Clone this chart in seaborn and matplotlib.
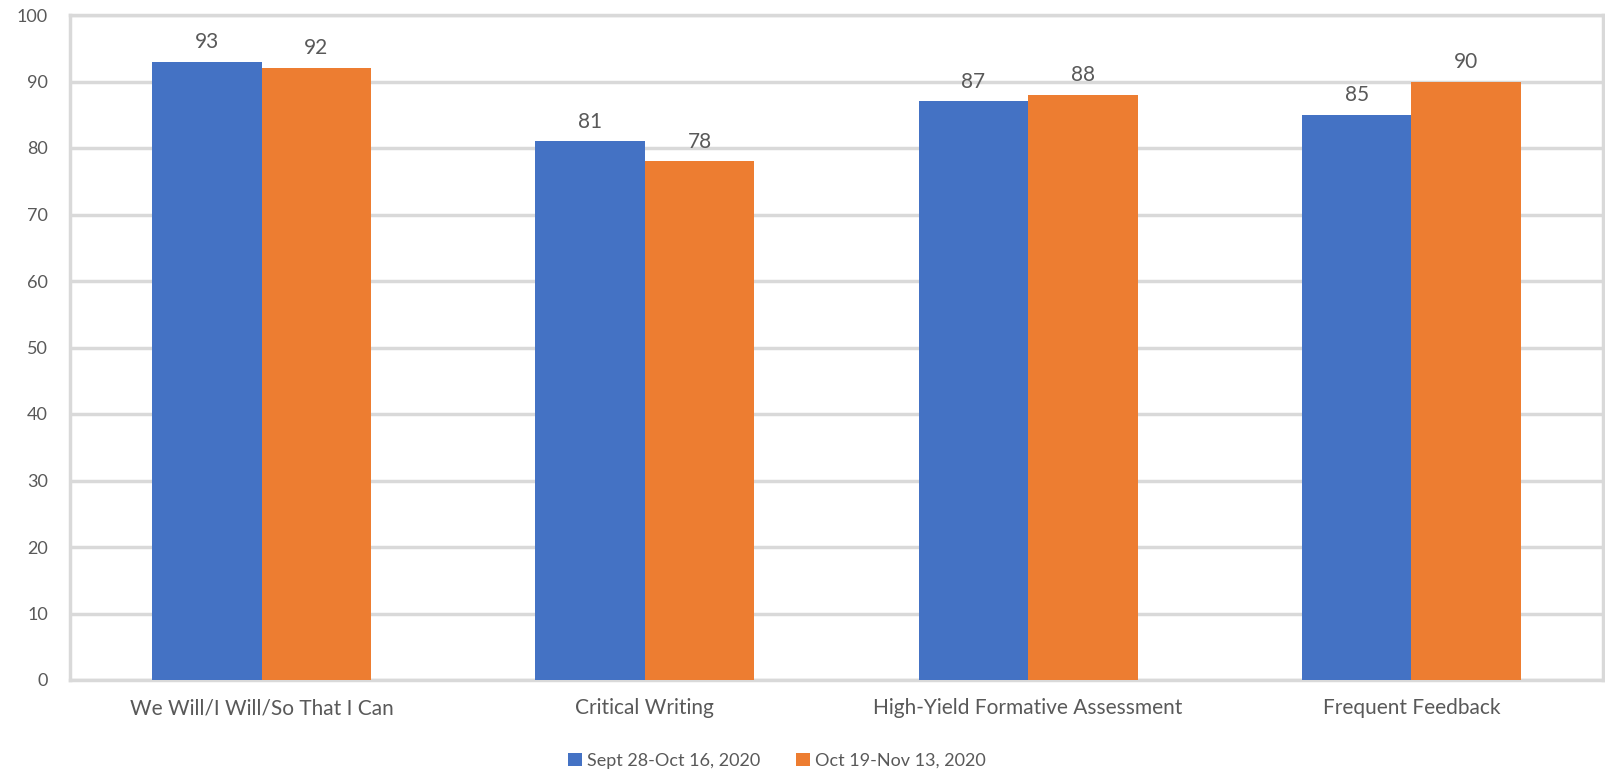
import matplotlib
matplotlib.use("Agg")
import matplotlib.pyplot as plt
import seaborn as sns
import pandas as pd

categories = [
    "We Will/I Will/So That I Can",
    "Critical Writing",
    "High-Yield Formative Assessment",
    "Frequent Feedback",
]
series_names = ["Sept 28-Oct 16, 2020", "Oct 19-Nov 13, 2020"]
period1 = [93, 81, 87, 85]
period2 = [92, 78, 88, 90]
yticks = list(range(0, 101, 10))

colors = ["#4472C4", "#ED7D31"]
grid_color = "#D9D9D9"
text_color = "#595959"

df = pd.DataFrame({
    "category": categories * 2,
    "period": [series_names[0]] * len(categories) + [series_names[1]] * len(categories),
    "value": period1 + period2,
})

sns.set_theme(style="white")
plt.rcParams["font.family"] = ["Lato", "DejaVu Sans"]

fig = plt.figure(figsize=(16.06, 7.70), dpi=100)
ax = fig.add_axes([70 / 1606, 90 / 770, 1533 / 1606, 665 / 770])

sns.barplot(
    data=df, x="category", y="value", hue="period",
    order=categories, hue_order=series_names,
    palette=colors, width=0.572, gap=0, saturation=1,
    edgecolor="none", linewidth=0, ax=ax, zorder=3,
)

for container in ax.containers:
    ax.bar_label(container, fmt="%d", padding=7, fontsize=15, color=text_color)

ax.set_ylim(0, 100)
ax.set_yticks(yticks)
ax.set_yticklabels([str(t) for t in yticks])
ax.set_xlim(-0.5, len(categories) - 0.5)
ax.yaxis.grid(True, color=grid_color, linewidth=2.5, zorder=0)
ax.set_axisbelow(True)
for side in ["left", "right", "top", "bottom"]:
    ax.spines[side].set_visible(True)
    ax.spines[side].set_color(grid_color)
    ax.spines[side].set_linewidth(2.5)
ax.tick_params(axis="both", length=0, colors=text_color)
ax.tick_params(axis="x", pad=13, labelsize=15)
ax.tick_params(axis="y", pad=16, labelsize=13)
ax.set_xlabel("")
ax.set_ylabel("")

handles, labels = ax.get_legend_handles_labels()
ax.legend_.remove()
fig.legend(
    handles, labels, loc="center", bbox_to_anchor=(777 / 1606, 1 - 761 / 770),
    ncol=2, frameon=False, fontsize=13, labelcolor=text_color,
    handlelength=0.75, handleheight=0.75, handletextpad=0.3, columnspacing=2.0,
)

fig.savefig("out.png", dpi=100)
